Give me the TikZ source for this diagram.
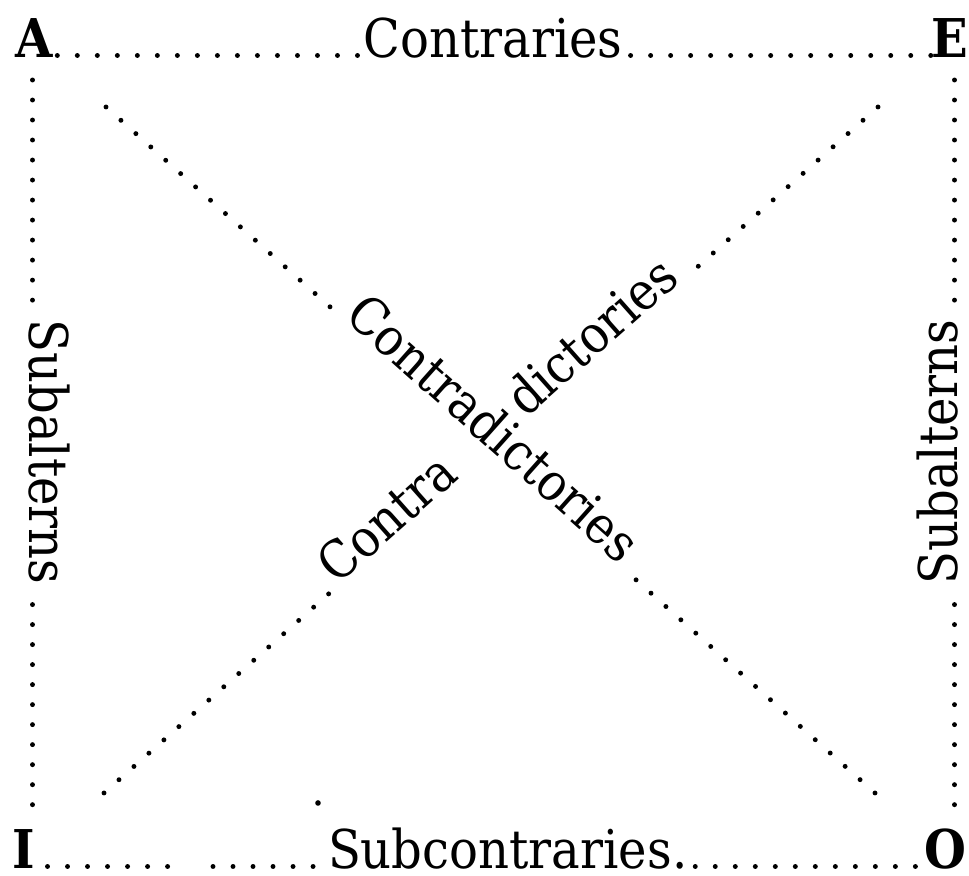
\documentclass[tikz,border=0pt]{standalone}
\usepackage{fontspec}
\setmainfont{DejaVu Serif Condensed}
\tikzset{
every node/.style = {font = \fontsize{15.2}{18}\selectfont, inner sep = 0pt, outer sep = 0pt},
corner/.style = {font = \fontsize{15.2}{18}\selectfont\bfseries},
slant/.style = {font = \fontsize{14.8}{18}\selectfont, sloped},
leader/.style = {line width = 1.4pt, line cap = round,
   dash pattern = on 0pt off 0.2cm}
}
\begin{document}
\begin{tikzpicture}[x = 0.01cm, y = 0.01cm]
\useasboundingbox (0,0) rectangle (969,876);

%% Corners
\foreach \n/\pos/\anc in {A/{15,818}/base west, E/{968,818}/base east,
   I/{12,7}/base west, O/{966,7}/base east} {
   \node [corner, anchor = \anc] (\n) at (\pos) {\n};
}

%% Sides
\node [anchor = base] (contrar) at (493,818) {Contraries};
\node [anchor = base west] (subcon) at (328,7) {Subcontraries.};
\node [anchor = base, rotate = -90] (subL) at (30,424) {Subalterns};
\node [anchor = base, rotate = 90] (subR) at (957,424) {Subalterns};

%% Diagonals
\coordinate (ao1) at (106,769);
\coordinate (ao2) at (875,83);
\coordinate (ei1) at (104,83);
\coordinate (ei2) at (878,769);
\path (ao1) -- (ao2) node [slant, pos = 0.488, anchor = base] (contrad) {Contradictories};
\path (ei1) -- (ei2) node [slant, pos = 0.302, anchor = base west] (contra) {Contra}
   node [slant, pos = 0.746, anchor = base east] (dictor) {dictories};

%% Leaders, top and bottom
\coordinate (gapL) at (175,9.5);
\coordinate (gapR) at (213,9.5);
\draw [leader] ([xshift = 0.05cm, yshift = 0.025cm]A.base east)
   -- ([yshift = 0.025cm]contrar.base west);
\draw [leader] ([xshift = 0.08cm, yshift = 0.025cm]contrar.base east)
   -- ([yshift = 0.025cm]E.base west);
\draw [leader] ([xshift = 0.13cm, yshift = 0.025cm]I.base east) -- (gapL);
\draw [leader] (gapR) -- ([yshift = 0.025cm]subcon.base west);
\draw [leader] ([xshift = 0.08cm, yshift = 0.025cm]subcon.base east)
   -- ([yshift = 0.025cm]O.base west);

%% Leaders, sides
\draw [leader, shorten < = 0.22cm] ([xshift = 0.025cm]subL.base west |- A.south)
   -- ([xshift = 0.025cm]subL.base west);
\draw [leader, shorten < = 0.2cm, shorten > = 0.1cm] ([xshift = 0.025cm]subL.base east)
   -- ([xshift = 0.025cm]subL.base east |- I.north);
\draw [leader, shorten < = 0.22cm] ([xshift = -0.025cm]subR.base east |- E.south)
   -- ([xshift = -0.025cm]subR.base east);
\draw [leader, shorten < = 0.2cm, shorten > = 0.1cm] ([xshift = -0.025cm]subR.base west)
   -- ([xshift = -0.025cm]subR.base west |- O.north);

%% Leaders, diagonals
\draw [leader, shorten > = 0.1cm] (ao1) -- (contrad.base west);
\draw [leader, shorten > = 0.1cm] (ao2) -- (contrad.base east);
\draw [leader, shorten > = 0.1cm] (ei1) -- (contra.base west);
\draw [leader, shorten > = 0.1cm] (ei2) -- (dictor.base east);

%% Stray dot
\fill (318,73) circle (0.028cm);

\end{tikzpicture}
\end{document}
